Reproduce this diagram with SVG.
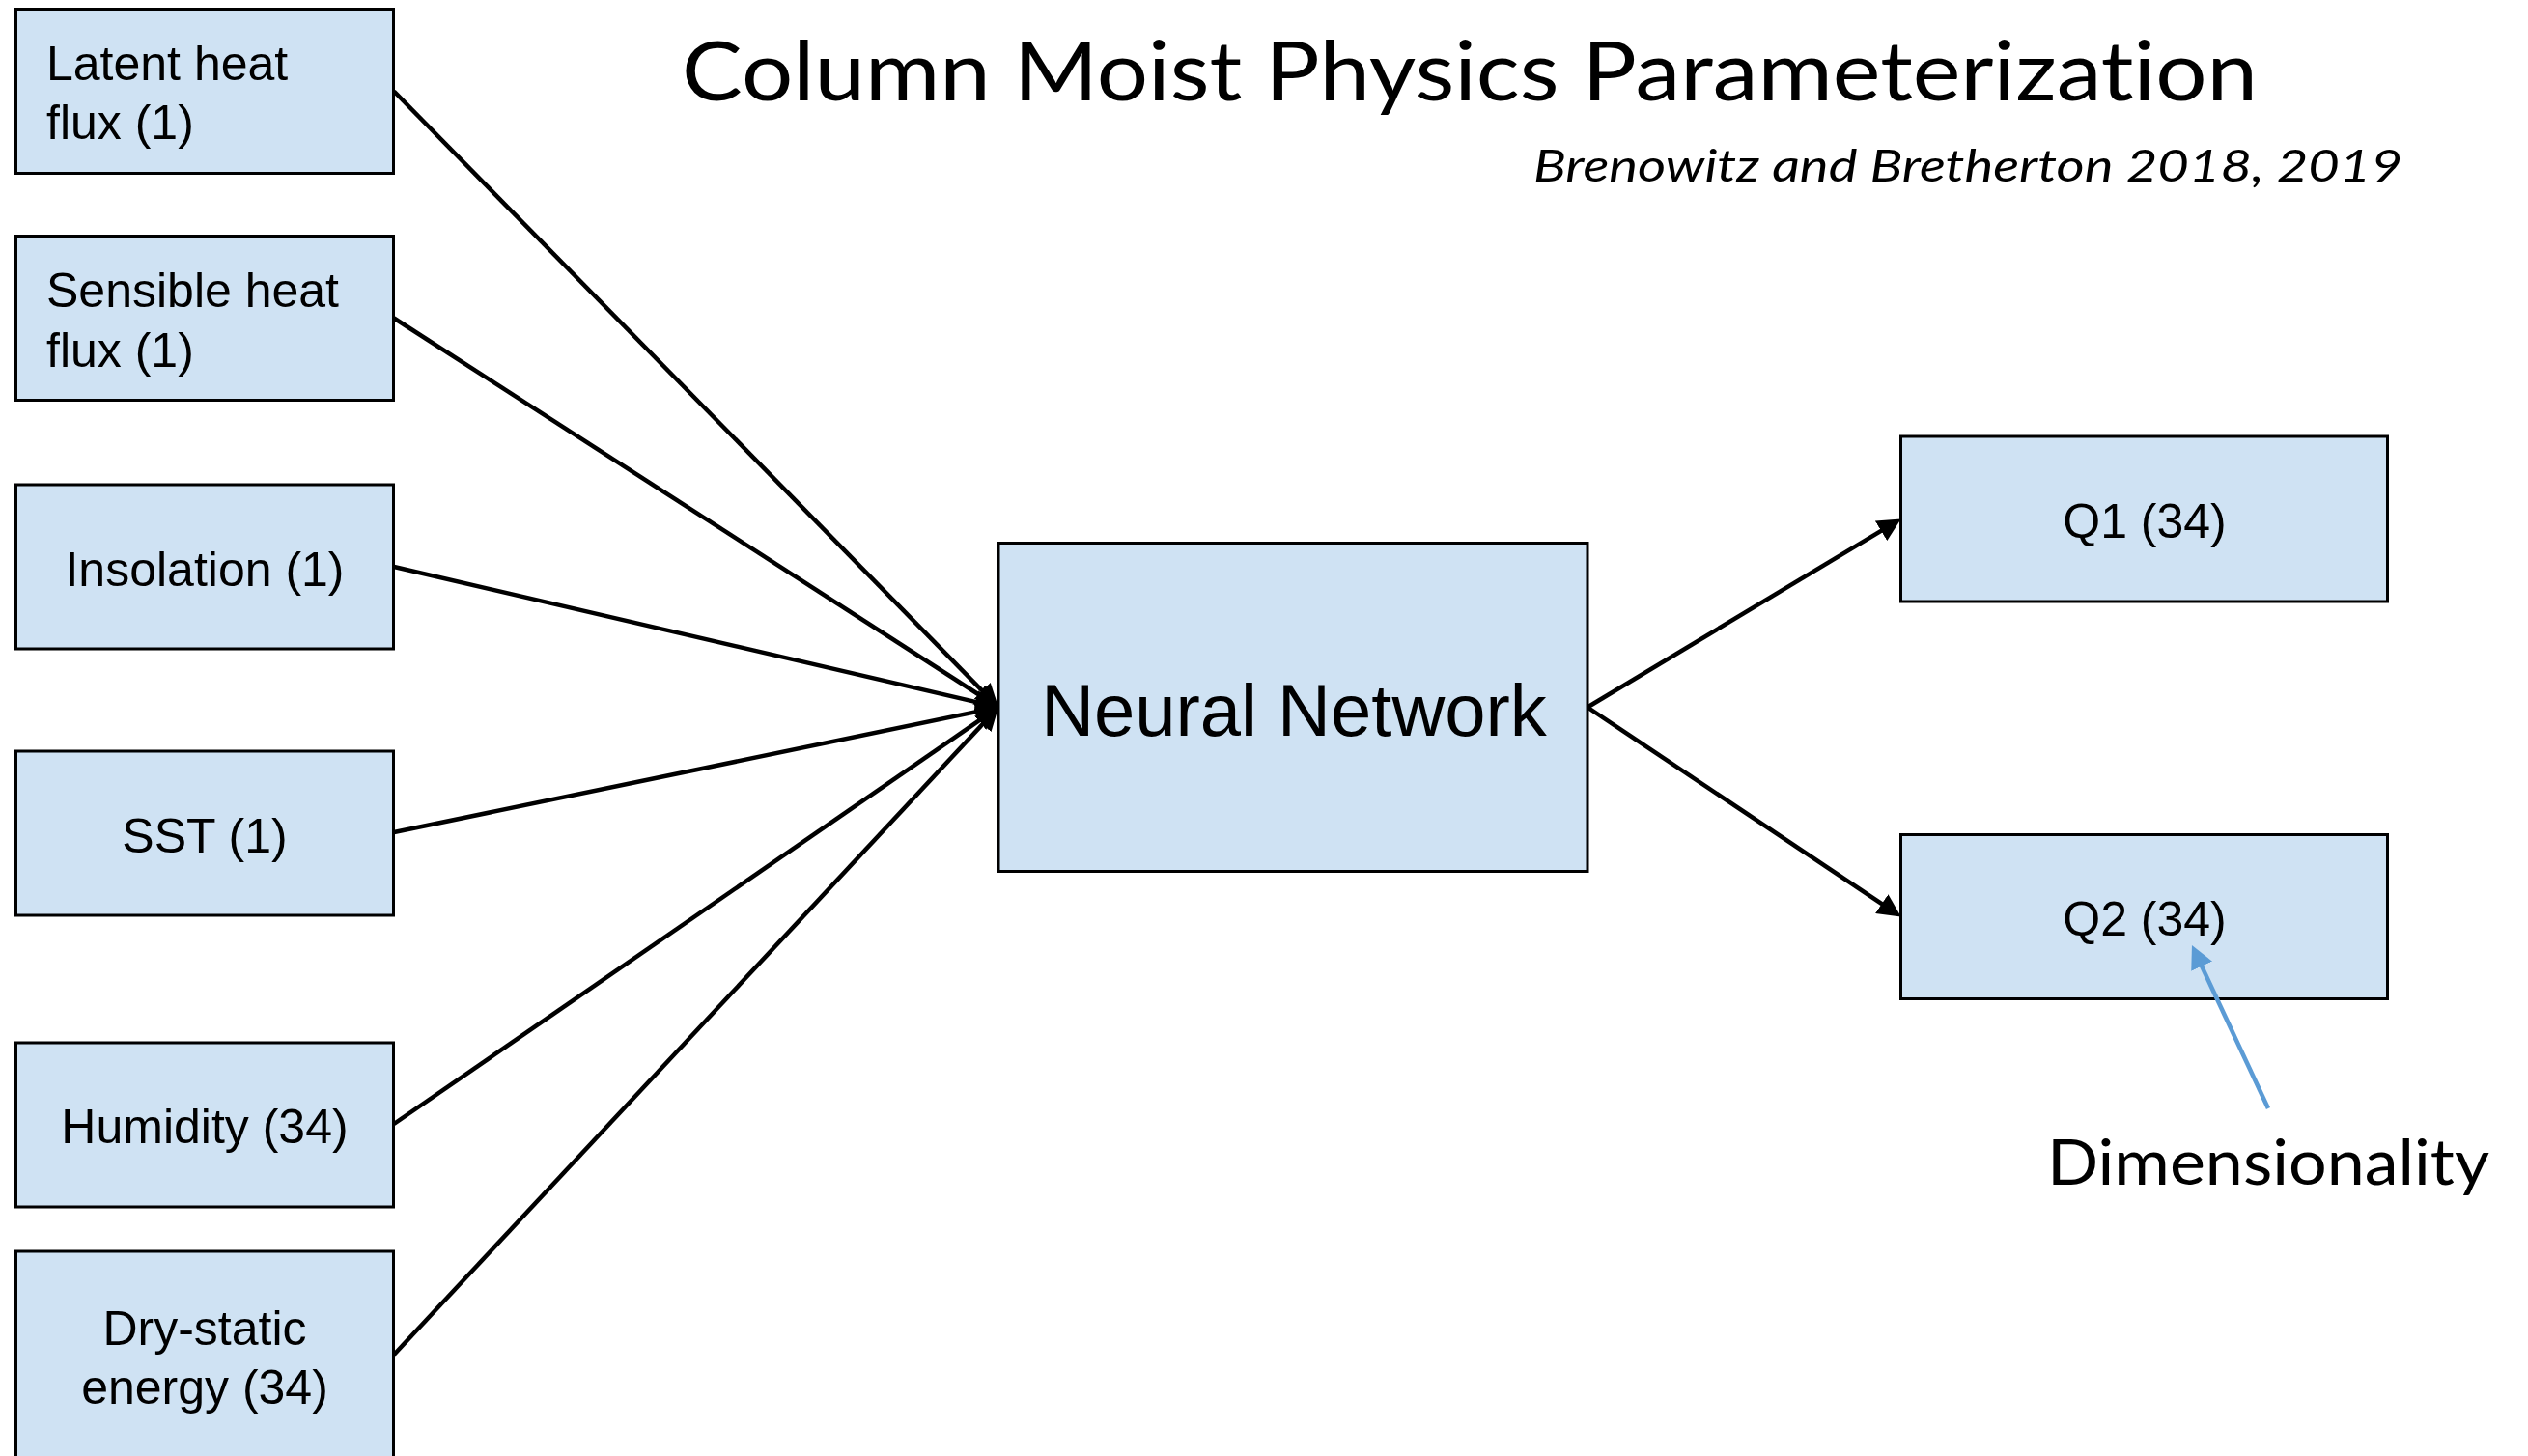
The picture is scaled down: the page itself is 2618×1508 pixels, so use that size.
<svg xmlns="http://www.w3.org/2000/svg" width="2618" height="1508" viewBox="0 0 2618 1508">
  <style>
    .box { fill: #cfe2f3; stroke: #000; stroke-width: 3; }
    .lbl { font-family: "Liberation Sans", Arial, sans-serif; font-size: 50px; fill: #000; }
    .mid { text-anchor: middle; }
    .big { font-size: 76px; }
    .cal { font-family: Lato, "Open Sans", sans-serif; fill: #000; font-variant-ligatures: none; }
    .link { stroke: #000; stroke-width: 4.5; fill: none; marker-end: url(#head); }
    .note { stroke: #5b9bd5; stroke-width: 4.5; fill: none; marker-end: url(#headBlue); }
  </style>
  <defs>
    <marker id="head" markerUnits="userSpaceOnUse" markerWidth="24" markerHeight="24" refX="14" refY="12" orient="auto">
      <path d="M0,0 L24,12 L0,24 z" fill="#000"/>
    </marker>
    <marker id="headBlue" markerUnits="userSpaceOnUse" markerWidth="24" markerHeight="24" refX="14" refY="12" orient="auto">
      <path d="M0,0 L24,12 L0,24 z" fill="#5b9bd5"/>
    </marker>
  </defs>

  <rect width="2618" height="1508" fill="#fff"/>

  <!-- headings -->
  <text class="cal" x="706" y="104" font-size="86" textLength="1632" lengthAdjust="spacingAndGlyphs">Column Moist Physics Parameterization</text>
  <text class="cal" x="1588" y="188" font-size="47" font-style="italic" textLength="900" lengthAdjust="spacingAndGlyphs">Brenowitz and Bretherton 2018, 2019</text>

  <!-- connectors -->
  <g id="connectors">
    <line class="link" x1="408" y1="94.5" x2="1027.0" y2="725.4"/>
    <line class="link" x1="408" y1="329.5" x2="1025.6" y2="727.1"/>
    <line class="link" x1="408" y1="587" x2="1024.3" y2="730.2"/>
    <line class="link" x1="408" y1="862" x2="1024.2" y2="734.5"/>
    <line class="link" x1="408" y1="1164" x2="1025.8" y2="738.2"/>
    <line class="link" x1="408" y1="1403" x2="1027.2" y2="739.8"/>
    <line class="link" x1="1644" y1="732.5" x2="1960.1" y2="542.6"/>
    <line class="link" x1="1644" y1="732.5" x2="1960.4" y2="943.9"/>
  </g>

  <!-- input nodes -->
  <g id="latent">
    <rect class="box" x="16.5" y="9.5" width="391" height="170"/>
    <text class="lbl" x="48" y="83">Latent heat</text>
    <text class="lbl" x="48" y="144">flux (1)</text>
  </g>
  <g id="sensible">
    <rect class="box" x="16.5" y="244.5" width="391" height="170"/>
    <text class="lbl" x="48" y="318">Sensible heat</text>
    <text class="lbl" x="48" y="380">flux (1)</text>
  </g>
  <g id="insolation">
    <rect class="box" x="16.5" y="502" width="391" height="170"/>
    <text class="lbl mid" x="212" y="607">Insolation (1)</text>
  </g>
  <g id="sst">
    <rect class="box" x="16.5" y="778" width="391" height="170"/>
    <text class="lbl mid" x="212" y="883">SST (1)</text>
  </g>
  <g id="humidity">
    <rect class="box" x="16.5" y="1080" width="391" height="170"/>
    <text class="lbl mid" x="212" y="1184">Humidity (34)</text>
  </g>
  <g id="dry-static">
    <rect class="box" x="16.5" y="1296" width="391" height="214"/>
    <text class="lbl mid" x="212" y="1393">Dry-static</text>
    <text class="lbl mid" x="212" y="1454">energy (34)</text>
  </g>

  <!-- model -->
  <g id="neural-network">
    <rect class="box" x="1034" y="562.5" width="610" height="340"/>
    <text class="lbl mid big" x="1340" y="762">Neural Network</text>
  </g>

  <!-- outputs -->
  <g id="q1">
    <rect class="box" x="1968.5" y="452" width="504" height="171"/>
    <text class="lbl mid" x="2221" y="557">Q1 (34)</text>
  </g>
  <g id="q2">
    <rect class="box" x="1968.5" y="864.5" width="504" height="170"/>
    <text class="lbl mid" x="2221" y="969">Q2 (34)</text>
  </g>

  <!-- annotation: callout pointing at the size of Q2 -->
  <g id="dimensionality">
    <line class="note" x1="2349" y1="1148" x2="2274.2" y2="988.1"/>
    <text class="cal" x="2120" y="1227" font-size="66" textLength="458" lengthAdjust="spacingAndGlyphs">Dimensionality</text>
  </g>
</svg>
